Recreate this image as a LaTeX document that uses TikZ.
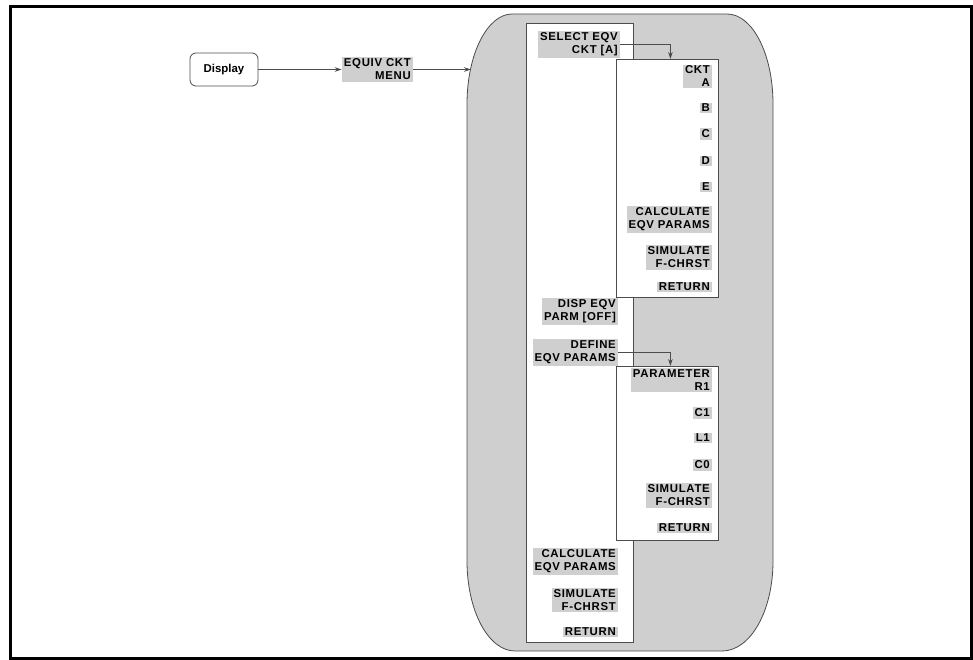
\documentclass[tikz,border=0pt]{standalone}
\usepackage{fontspec}
\setmainfont{Liberation Sans}
\newfontfamily\labfont[LetterSpace=6]{Liberation Sans}
\usetikzlibrary{arrows.meta}
\definecolor{shade}{gray}{0.81}
\definecolor{ln}{gray}{0.3}
\tikzset{
 lab/.style={font=\labfont\bfseries\fontsize{11.4}{13}\selectfont, fill=shade, align=right, inner xsep=2pt, inner ysep=1.5pt, anchor=east},
 pane/.style={draw=ln, fill=white, line width=0.8pt, anchor=north west, inner sep=0pt},
 conn/.style={draw=ln, line width=0.7pt, -{Stealth[length=7pt,width=4.5pt]}},
}
\begin{document}
\begin{tikzpicture}[x=1pt,y=-1pt]
\useasboundingbox (0,0) rectangle (973,660);
\draw[line width=3pt] (10.5,6.5) rectangle (971.5,658.5);
% outer shaded shape
\draw[draw=ln, fill=shade, line width=0.8pt]
 (512,14) -- (727,14) .. controls (752.5,14) and (773,54) .. (773,104)
 -- (773,561) .. controls (773,611) and (750.5,651) .. (722,651)
 -- (515,651) .. controls (488.5,651) and (467,611) .. (467,561)
 -- (467,104) .. controls (467,54) and (487.5,14) .. (512,14) -- cycle;
\coordinate (oleft) at (471,69.5);
% panes
\node[pane, minimum width=107pt, minimum height=619pt] (col) at (526,23) {};
\node[pane, minimum width=102pt, minimum height=238pt] (sub1) at (616,59) {};
\node[pane, minimum width=102pt, minimum height=174pt] (sub2) at (616,366) {};
% left part
\node[draw=ln, line width=0.8pt, rounded corners=6pt, minimum width=68pt, minimum height=33pt,
 font=\bfseries\fontsize{11.4}{13}\selectfont] (disp) at (224,69.5) {Display};
\node[lab] (menu) at (413,69.5) {EQUIV CKT\\MENU};
% main column labels
\node[lab] (sel) at (620,44.5) {SELECT EQV\\CKT [A]};
\node[lab] (dsp) at (618,311.5) {DISP EQV\\PARM [OFF]};
\node[lab] (def) at (618,352.5) {DEFINE\\EQV PARAMS};
\node[lab] (calc) at (618,561.5) {CALCULATE\\EQV PARAMS};
\node[lab] (sim) at (618,600) {SIMULATE\\F-CHRST};
\node[lab] (ret) at (618,632) {RETURN};
% submenu 1
\node[lab] (ckta) at (712,76.5) {CKT\\A};
\node[lab] (cb) at (712,108) {B};
\node[lab] (cc) at (712,134) {C};
\node[lab] (cd) at (712,161) {D};
\node[lab] (ce) at (712,187) {E};
\node[lab] (scalc) at (712,219.5) {CALCULATE\\EQV PARAMS};
\node[lab] (ssim) at (712,257.5) {SIMULATE\\F-CHRST};
\node[lab] (sret) at (712,287) {RETURN};
% submenu 2
\node[lab] (par) at (712,380) {PARAMETER\\R1};
\node[lab] (pc1) at (712,413) {C1};
\node[lab] (pl1) at (712,438) {L1};
\node[lab] (pc0) at (712,465) {C0};
\node[lab] (psim) at (712,495.5) {SIMULATE\\F-CHRST};
\node[lab] (pret) at (712,528) {RETURN};
% connectors
\draw[conn] (disp) -- (menu);
\draw[conn] (menu.east) -- (oleft);
\draw[conn] (sel.east) -| ([xshift=3pt]sub1.north);
\draw[conn] (def.east) -| ([xshift=3pt]sub2.north);
\end{tikzpicture}
\end{document}
